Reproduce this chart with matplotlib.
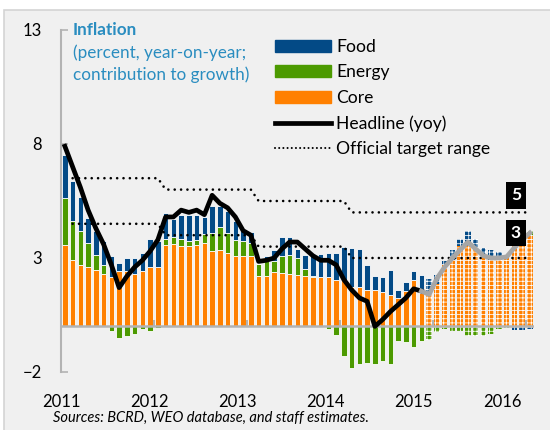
import matplotlib.pyplot as plt
import numpy as np
from matplotlib.patches import Patch, Rectangle
from matplotlib.lines import Line2D

plt.rcParams['font.family'] = ['Lato', 'DejaVu Sans']
plt.rcParams['hatch.linewidth'] = 0.55

# monthly data, Jan 2011 - Jan 2016 (contributions, percentage points)
years = ['2011', '2012', '2013', '2014', '2015', '2016']
core = [3.59, 2.92, 2.70, 2.59, 2.49, 2.30, 2.15, 2.44, 2.44, 2.30, 2.44, 2.59,
        2.59, 3.55, 3.63, 3.51, 3.51, 3.58, 3.65, 3.29, 3.36, 3.22, 3.07, 3.07,
        3.07, 2.22, 2.22, 2.37, 2.34, 2.31, 2.27, 2.19, 2.16, 2.16, 2.16, 2.05,
        2.05, 1.73, 1.73, 1.58, 1.58, 1.49, 1.36, 1.24, 1.54, 2.02, 1.46, 1.46,
        1.87, 2.70, 2.92, 3.51, 3.51, 3.36, 3.10, 2.92, 2.95, 3.00, 3.51, 3.73,
        3.95]
energy = [2.05, 1.71, 1.50, 1.05, 0.65, 0.40, -0.18, -0.51, -0.44, -0.32, -0.12, -0.22,
          -0.07, 0.30, 0.29, 0.32, 0.22, 0.19, 0.40, 0.80, 1.00, 0.87, 0.70, 0.66,
          0.60, 0.51, 0.66, 0.51, 0.73, 0.83, 0.73, 0.32, 0.06, -0.03, -0.12, -0.37,
          -1.29, -1.83, -1.65, -1.61, -1.64, -1.50, -1.64, -0.66, -0.70, -0.90, -0.66, -0.58,
          -0.26, -0.12, -0.22, -0.22, -0.44, -0.44, -0.44, -0.32, -0.12, -0.05, 0.00, 0.10,
          0.22]
food = [1.89, 1.76, 1.49, 1.11, 1.03, 1.03, 0.92, 0.34, 0.56, 0.70, 0.78, 1.26,
        1.17, 1.12, 0.79, 1.07, 1.17, 1.13, 0.75, 1.17, 0.93, 0.95, 0.86, 0.47,
        0.45, 0.00, 0.19, 0.48, 0.85, 0.78, 0.39, 0.63, 0.92, 1.03, 1.06, 1.17,
        1.43, 1.71, 1.68, 1.12, 0.64, 0.66, 1.13, 0.34, 0.39, 0.39, 0.81, 0.62,
        0.40, 0.18, 0.41, 0.32, 0.66, 0.47, 0.34, 0.44, 0.30, 0.05, -0.15, -0.15,
        -0.12]
# headline inflation, Jan 2011 - Nov 2014
headline = [7.9, 7.0, 6.1, 5.1, 4.3, 3.6, 2.7, 1.7, 2.2, 2.6, 2.9, 3.3,
            3.8, 4.8, 4.8, 5.1, 5.0, 5.1, 4.9, 5.75, 5.4, 5.2, 4.8, 4.2,
            4.0, 2.85, 2.9, 3.0, 3.4, 3.7, 3.7, 3.4, 3.1, 2.9, 2.9, 2.7,
            2.05, 1.6, 1.25, 1.1, 0.0, 0.3, 0.65, 0.95, 1.25, 1.65, 1.55]
# projection, Nov 2014 - Jan 2016
headline_proj = [1.55, 1.4, 2.1, 2.6, 3.0, 3.35, 3.7, 3.4, 3.1, 3.0, 3.0, 3.05,
                 3.45, 3.8, 4.1]
# official target range by year (2011, 2012, 2013, 2014, 2015)
target_hi = [6.5, 6.0, 5.5, 5.0, 5.0]
target_lo = [4.5, 4.0, 3.5, 3.0, 3.0]

FOOD = '#034a86'
ENERGY = '#4c9a00'
CORE = '#ff8000'
TITLE = '#2a8dc0'
BG = '#f0f0f0'

core = np.array(core)
energy = np.array(energy)
food = np.array(food)
n = len(core)
x = np.arange(n) + 0.5
n_act = len(headline)

fig = plt.figure(figsize=(5.5, 4.3), dpi=100, facecolor='white')
fig.patches.append(Rectangle((4 / 550, -0.01), 1.0, 1 - 10 / 430 + 0.01, transform=fig.transFigure,
                             facecolor=BG, edgecolor='#d4d4d4', lw=1.2, zorder=-10))
ax = fig.add_axes([61 / 550, 58 / 430, 472.75 / 550, 342 / 430])
ax.set_facecolor('none')

# stacking: core at bottom, energy then food on top; negatives below zero
e_pos = np.clip(energy, 0, None)
e_neg = np.clip(energy, None, 0)
f_bottom = np.where(food >= 0, core + e_pos, e_neg)

w = 0.72
act = slice(0, n_act)
fc = slice(n_act, n)
for sl, hatch in [(act, None), (fc, '++++')]:
    kw = dict(width=w, edgecolor='white', linewidth=0.6 if hatch is None else 0, hatch=hatch, zorder=2)
    ax.bar(x[sl], core[sl], color=CORE, **kw)
    ax.bar(x[sl], energy[sl], bottom=np.where(energy[sl] >= 0, core[sl], 0), color=ENERGY, **kw)
    ax.bar(x[sl], food[sl], bottom=f_bottom[sl], color=FOOD, **kw)

ax.axhline(0, color='#b3b3b3', lw=1.8, zorder=3)
ax.vlines(np.arange(12, n, 12), 0, 0.3, color='#b3b3b3', lw=1.5, zorder=3)

# target range
tx = x[1:]
months = [12, 12, 12, 12, 12]
dot = dict(color='black', lw=1.9, linestyle=(0, (0.01, 2.4)), dash_capstyle='round', zorder=4)
ax.plot(tx, np.repeat(target_hi, months), **dot)
ax.plot(tx, np.repeat(target_lo, months), **dot)

ax.plot(x[:n_act], headline, color='black', lw=3.4, solid_joinstyle='round', zorder=5)
ax.plot(x[n_act - 1:], headline_proj, color='#a6a6a6', lw=3.4, solid_joinstyle='round', zorder=5)

box = dict(boxstyle='square,pad=0.3', facecolor='black', edgecolor='none')
ax.text(n - 2.3, target_hi[-1] + 0.75, f'{target_hi[-1]:g}', color='white', fontsize=12.5,
        fontweight='bold', ha='center', va='center', bbox=box, zorder=6)
ax.text(n - 2.3, target_lo[-1] + 1.1, f'{target_lo[-1]:g}', color='white', fontsize=12.5,
        fontweight='bold', ha='center', va='center', bbox=box, zorder=6)

ax.set_xlim(0, n)
ax.set_ylim(-2, 13)
ax.set_yticks([-2, 3, 8, 13])
for s in ['top', 'right', 'bottom']:
    ax.spines[s].set_visible(False)
ax.spines['left'].set_color('#b3b3b3')
ax.spines['left'].set_linewidth(1.5)
ax.tick_params(axis='y', direction='in', length=5, width=1.2, color='#b3b3b3',
               labelsize=12, pad=14)
ax.set_xticks(np.arange(len(years)) * 11.38, years)
ax.tick_params(axis='x', length=0, labelsize=12, pad=16)

# title
fig.text(73 / 550, 1 - 30 / 430, 'Inflation', color=TITLE, fontsize=12.3, fontweight='bold', va='center')
fig.text(73 / 550, 1 - 53 / 430, '(percent, year-on-year;', color=TITLE, fontsize=12.3, va='center')
fig.text(73 / 550, 1 - 75 / 430, 'contribution to growth)', color=TITLE, fontsize=12.3, va='center')

handles = [Patch(color=FOOD), Patch(color=ENERGY), Patch(color=CORE),
           Line2D([], [], color='black', lw=3.4),
           Line2D([], [], color='black', lw=1.5, linestyle=(0, (0.01, 2.0)), dash_capstyle='round')]
labels = ['Food', 'Energy', 'Core', 'Headline (yoy)', 'Official target range']
ax.legend(handles, labels, loc='upper left', bbox_to_anchor=(275 / 550, 1 - 39 / 430),
          bbox_transform=fig.transFigure, frameon=False, fontsize=12.6, handlelength=3.2,
          handleheight=0.7, labelspacing=0.54, handletextpad=0.3, borderpad=0, borderaxespad=0)

fig.text(53 / 550, 1 - 418 / 430, 'Sources: BCRD, WEO database, and staff estimates.',
         fontsize=10.5, style='italic', va='center')

fig.savefig('out.png', dpi=100, facecolor=fig.get_facecolor())
